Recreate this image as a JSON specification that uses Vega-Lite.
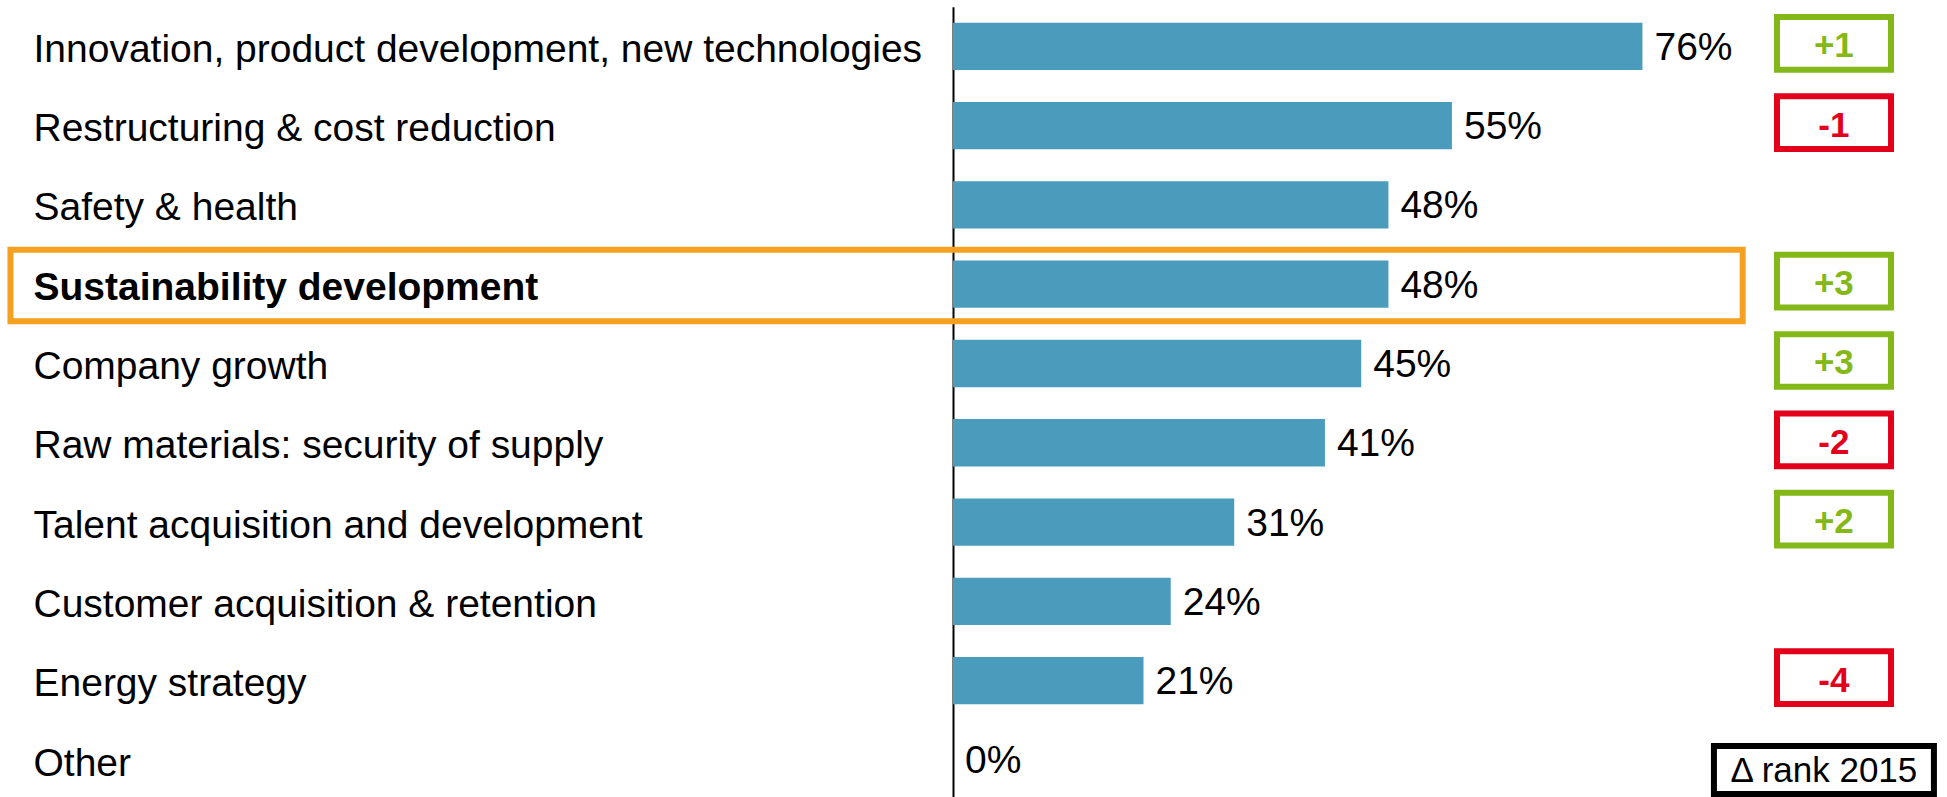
{
  "$schema": "https://vega.github.io/schema/vega-lite/v6.json",
  "width": 994,
  "height": 793,
  "autosize": {"type": "none"},
  "padding": {"left": 953, "top": 6.65, "right": 0, "bottom": 0},
  "background": "white",
  "config": {"view": {"stroke": null}, "font": "Liberation Sans"},
  "data": {
    "values": [
      {"issue": "Innovation, product development, new technologies", "share": 0.76, "delta": "+1"},
      {"issue": "Restructuring & cost reduction", "share": 0.55, "delta": "-1"},
      {"issue": "Safety & health", "share": 0.48, "delta": null},
      {"issue": "Sustainability development", "share": 0.48, "delta": "+3"},
      {"issue": "Company growth", "share": 0.45, "delta": "+3"},
      {"issue": "Raw materials: security of supply", "share": 0.41, "delta": "-2"},
      {"issue": "Talent acquisition and development", "share": 0.31, "delta": "+2"},
      {"issue": "Customer acquisition & retention", "share": 0.24, "delta": null},
      {"issue": "Energy strategy", "share": 0.21, "delta": "-4"},
      {"issue": "Other", "share": 0, "delta": null}
    ]
  },
  "encoding": {
    "y": {
      "field": "issue",
      "type": "nominal",
      "sort": null,
      "scale": {"paddingInner": 0.403, "paddingOuter": 0.2015},
      "axis": {
        "title": null,
        "domain": true,
        "domainColor": "black",
        "domainWidth": 2,
        "ticks": false,
        "tickSize": 0,
        "grid": false,
        "labelPadding": 920,
        "labelAlign": "left",
        "labelBaseline": "alphabetic",
        "labelOffset": 15.6,
        "labelFont": "Liberation Sans",
        "labelFontSize": 39,
        "labelColor": "black",
        "labelLimit": 0,
        "labelOverlap": false,
        "labelFontWeight": {"condition": {"test": "datum.value === 'Sustainability development'", "value": "bold"}, "value": "normal"}
      }
    }
  },
  "layer": [
    {
      "mark": {"type": "bar", "color": "#4B9BBC"},
      "encoding": {
        "x": {"field": "share", "type": "quantitative", "scale": {"domain": [0, 1.0957], "nice": false, "zero": true}, "axis": null}
      }
    },
    {
      "mark": {"type": "text", "align": "left", "baseline": "alphabetic", "dx": 12, "dy": 13.5, "fontSize": 39, "font": "Liberation Sans", "color": "black"},
      "encoding": {
        "x": {"field": "share", "type": "quantitative"},
        "text": {"field": "share", "type": "quantitative", "format": ".0%"}
      }
    },
    {
      "transform": [{"filter": "datum.issue === 'Sustainability development'"}],
      "mark": {"type": "bar", "height": 71.6, "yOffset": 1.3, "fill": "white", "fillOpacity": 0, "stroke": "#F5A021", "strokeWidth": 6, "clip": false},
      "encoding": {"x": {"datum": -1.039}, "x2": {"datum": 0.8705}}
    },
    {
      "transform": [{"filter": "datum.delta != null"}],
      "mark": {"type": "bar", "height": 52.7, "yOffset": -3, "fill": "white", "strokeWidth": 6, "clip": false},
      "encoding": {
        "x": {"datum": 0.9083},
        "x2": {"datum": 1.034},
        "stroke": {"condition": {"test": "indexof(datum.delta, '+') === 0", "value": "#84B818"}, "value": "#E2001A"}
      }
    },
    {
      "transform": [{"filter": "datum.delta != null"}],
      "mark": {"type": "text", "align": "center", "baseline": "alphabetic", "dy": 11, "fontSize": 35, "fontWeight": "bold", "font": "Liberation Sans"},
      "encoding": {
        "x": {"datum": 0.971},
        "text": {"field": "delta", "type": "nominal"},
        "color": {"condition": {"test": "indexof(datum.delta, '+') === 0", "value": "#84B818"}, "value": "#E2001A"}
      }
    },
    {
      "transform": [{"filter": "datum.issue === 'Other'"}],
      "mark": {"type": "bar", "height": 48, "yOffset": 10, "fill": "white", "stroke": "black", "strokeWidth": 6, "clip": false},
      "encoding": {"x": {"datum": 0.8388}, "x2": {"datum": 1.0813}}
    },
    {
      "transform": [{"filter": "datum.issue === 'Other'"}],
      "mark": {"type": "text", "text": "Δ rank 2015", "align": "center", "baseline": "alphabetic", "dy": 22.5, "fontSize": 35, "font": "Liberation Sans", "color": "black"},
      "encoding": {"x": {"datum": 0.96}}
    }
  ]
}
